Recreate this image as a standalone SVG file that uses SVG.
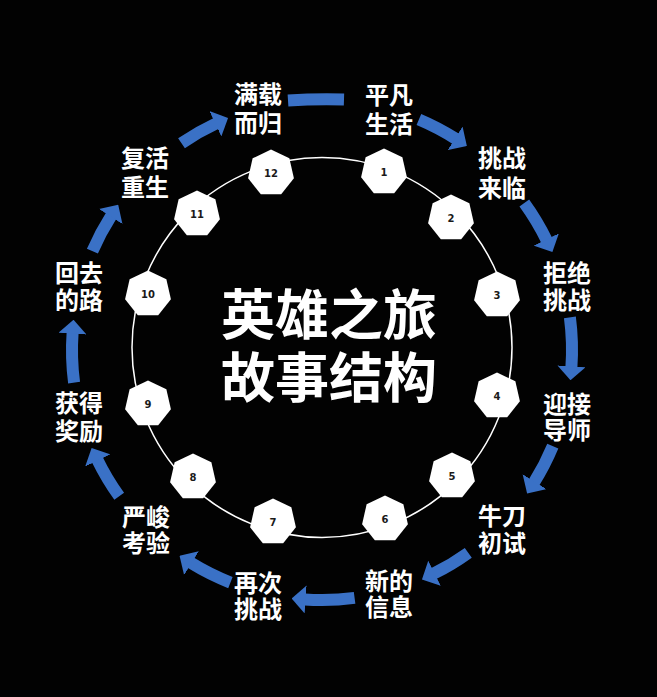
<svg xmlns="http://www.w3.org/2000/svg" xmlns:xlink="http://www.w3.org/1999/xlink" width="657" height="697" viewBox="0 0 657 697">
<defs>
<style>
.lbl{font-family:"Noto Sans CJK SC","Noto Sans CJK JP",sans-serif;font-weight:700;font-size:24px;fill:#ffffff;text-anchor:middle;dominant-baseline:central}
.title{font-family:"Noto Sans CJK SC","Noto Sans CJK JP",sans-serif;font-weight:700;font-size:54px;fill:#ffffff;text-anchor:middle;dominant-baseline:central}
.num{font-family:"DejaVu Sans","Liberation Sans",sans-serif;font-weight:700;font-size:10px;fill:#1a1a1a;text-anchor:middle;dominant-baseline:central}
.arc{fill:none;stroke:#3a71c6;stroke-width:12;stroke-linecap:butt}
.arrow{marker-end:url(#ah)}
.hep{fill:#ffffff}
</style>
<marker id="ah" markerUnits="userSpaceOnUse" viewBox="0 0 14 28" refX="1" refY="14" markerWidth="14" markerHeight="28" orient="auto">
<path d="M0,0 L14,14 L0,28 Z" fill="#3a71c6"/>
</marker>
<polygon id="hep" class="hep" points="0,-23.5 18.37,-14.65 22.91,5.23 10.2,21.17 -10.2,21.17 -22.91,5.23 -18.37,-14.65"/>
</defs>
<rect x="0" y="0" width="657" height="697" fill="#020202"/>
<circle cx="322" cy="347.5" r="190" fill="none" stroke="#ffffff" stroke-width="1.5"/>
<g id="connectors">
<path class="arc" d="M288,100.5 A600,600 0 0 1 344,99.5"/>
<path class="arc arrow" d="M418.9,119.5 A250,250 0 0 1 455.9,138.9"/>
<path class="arc arrow" d="M524.3,203 A250,250 0 0 1 546.7,240.4"/>
<path class="arc arrow" d="M569.9,317.4 A250,250 0 0 1 571.4,367.4"/>
<path class="arc arrow" d="M552.8,446.1 A250,250 0 0 1 534,482.5"/>
<path class="arc arrow" d="M468.3,552.8 A250,250 0 0 1 433.6,573.7"/>
<path class="arc arrow" d="M354.6,597.9 A250,250 0 0 1 304.6,599.4"/>
<path class="arc arrow" d="M230.4,582.6 A250,250 0 0 1 190.6,562.7"/>
<path class="arc arrow" d="M119.2,496.3 A250,250 0 0 1 97.3,459.6"/>
<path class="arc arrow" d="M74.1,382.6 A250,250 0 0 1 72.6,332.6"/>
<path class="arc arrow" d="M92.4,251.1 A250,250 0 0 1 111.2,215.7"/>
<path class="arc arrow" d="M181.5,143.2 A250,250 0 0 1 216.3,123.4"/>
</g>
<g id="title">
<text class="title" x="329" y="311">英雄之旅<tspan x="329" dy="63">故事结构</tspan></text>
</g>
<g id="n1"><use xlink:href="#hep" x="384" y="172"/><text class="num" x="384" y="172">1</text></g>
<g id="n2"><use xlink:href="#hep" x="451" y="218"/><text class="num" x="451" y="218">2</text></g>
<g id="n3"><use xlink:href="#hep" x="497" y="295"/><text class="num" x="497" y="295">3</text></g>
<g id="n4"><use xlink:href="#hep" x="497" y="396"/><text class="num" x="497" y="396">4</text></g>
<g id="n5"><use xlink:href="#hep" x="452" y="476"/><text class="num" x="452" y="476">5</text></g>
<g id="n6"><use xlink:href="#hep" x="385" y="519"/><text class="num" x="385" y="519">6</text></g>
<g id="n7"><use xlink:href="#hep" x="273" y="522"/><text class="num" x="273" y="522">7</text></g>
<g id="n8"><use xlink:href="#hep" x="193" y="477"/><text class="num" x="193" y="477">8</text></g>
<g id="n9"><use xlink:href="#hep" x="148" y="404"/><text class="num" x="148" y="404">9</text></g>
<g id="n10"><use xlink:href="#hep" x="148" y="294"/><text class="num" x="148" y="294">10</text></g>
<g id="n11"><use xlink:href="#hep" x="197" y="214"/><text class="num" x="197" y="214">11</text></g>
<g id="n12"><use xlink:href="#hep" x="271" y="173"/><text class="num" x="271" y="173">12</text></g>
<g id="s1"><text class="lbl" x="389" y="93">平凡<tspan x="389" dy="29">生活</tspan></text></g>
<g id="s2"><text class="lbl" x="502" y="156">挑战<tspan x="502" dy="30">来临</tspan></text></g>
<g id="s3"><text class="lbl" x="567" y="271">拒绝<tspan x="567" dy="27">挑战</tspan></text></g>
<g id="s4"><text class="lbl" x="567" y="402">迎接<tspan x="567" dy="26">导师</tspan></text></g>
<g id="s5"><text class="lbl" x="502" y="514">牛刀<tspan x="502" dy="27">初试</tspan></text></g>
<g id="s6"><text class="lbl" x="389" y="579">新的<tspan x="389" dy="26">信息</tspan></text></g>
<g id="s7"><text class="lbl" x="258" y="581">再次<tspan x="258" dy="26">挑战</tspan></text></g>
<g id="s8"><text class="lbl" x="146" y="515">严峻<tspan x="146" dy="26">考验</tspan></text></g>
<g id="s9"><text class="lbl" x="79" y="401">获得<tspan x="79" dy="28">奖励</tspan></text></g>
<g id="s10"><text class="lbl" x="79" y="271">回去<tspan x="79" dy="27">的路</tspan></text></g>
<g id="s11"><text class="lbl" x="145" y="156">复活<tspan x="145" dy="29">重生</tspan></text></g>
<g id="s12"><text class="lbl" x="258" y="92">满载<tspan x="258" dy="29">而归</tspan></text></g>
</svg>
